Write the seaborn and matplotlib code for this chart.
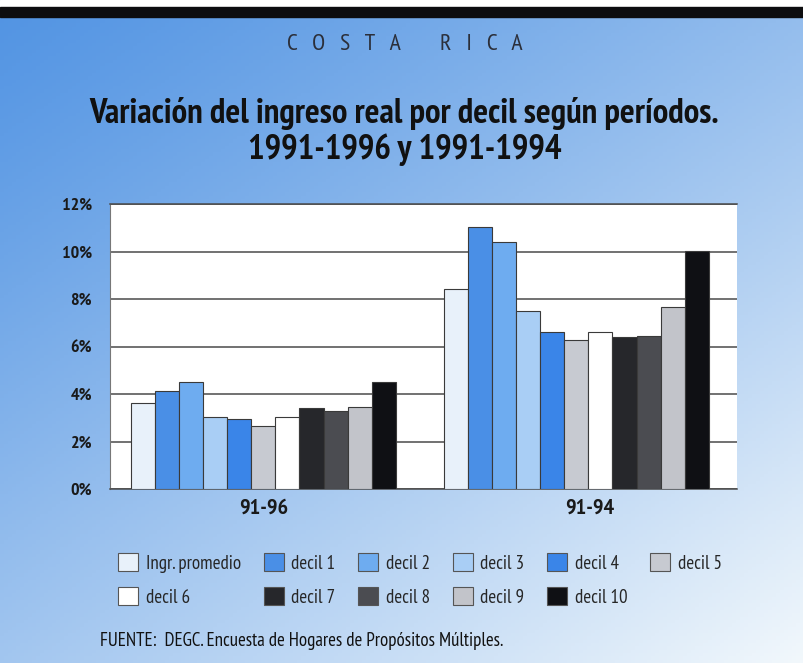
import numpy as np
import pandas as pd
import matplotlib
matplotlib.use("Agg")
import matplotlib.pyplot as plt
import matplotlib.transforms as mtrans
import seaborn as sns
from matplotlib.patches import Patch, Rectangle
from matplotlib import font_manager as fm

periods = ["91-96", "91-94"]
series = ["Ingr. promedio", "decil 1", "decil 2", "decil 3", "decil 4", "decil 5",
          "decil 6", "decil 7", "decil 8", "decil 9", "decil 10"]
vals_9196 = [3.63, 4.14, 4.50, 3.03, 2.96, 2.65, 3.02, 3.42, 3.28, 3.45, 4.49]
vals_9194 = [8.41, 11.02, 10.41, 7.49, 6.60, 6.27, 6.60, 6.41, 6.44, 7.68, 10.03]
colors = ["#e8f1fa", "#4a8fe6", "#6eacf0", "#a9cef5", "#3a85e8", "#c7cad1",
          "#ffffff", "#26272b", "#4b4c51", "#c2c4ca", "#0f1014"]
yticks = [0, 2, 4, 6, 8, 10, 12]
ytick_labels = ["0%", "2%", "4%", "6%", "8%", "10%", "12%"]

df = pd.DataFrame({
    "periodo": [periods[0]] * len(series) + [periods[1]] * len(series),
    "serie": series * 2,
    "valor": vals_9196 + vals_9194,
})

available = set(f.name for f in fm.fontManager.ttflist)
narrow = "DejaVu Sans"
for cand in ["PT Sans Narrow", "Fira Sans Condensed", "Roboto Condensed",
             "Liberation Sans Narrow", "Open Sans Condensed"]:
    if cand in available:
        narrow = cand
        break
scale = 1.0 if narrow != "DejaVu Sans" else 0.8

sns.set_theme(style="white")
FAM = [narrow, "DejaVu Sans"]
plt.rcParams["font.family"] = FAM

fig = plt.figure(figsize=(8.04, 6.63), dpi=100)

# background gradient
bg = fig.add_axes([0, 0, 1, 1], zorder=-10)
h, w = 200, 200
yy, xx = np.mgrid[0:1:h * 1j, 0:1:w * 1j]
t = np.clip(0.55 * yy + 0.45 * xx, 0, 1) ** 1.15
c0 = np.array([0x52, 0x94, 0xe3]) / 255.0
c1 = np.array([0xf2, 0xf8, 0xfc]) / 255.0
img = c0[None, None, :] * (1 - t[..., None]) + c1[None, None, :] * t[..., None]
bg.imshow(img, aspect="auto", extent=[0, 1, 0, 1], origin="upper")
bg.set_axis_off()
fig.patches.append(Rectangle((0, 1 - 7 / 663), 1, 7 / 663, transform=fig.transFigure,
                             color="white", zorder=-5))
fig.patches.append(Rectangle((0, 1 - 17 / 663), 1, 10 / 663, transform=fig.transFigure,
                             color="#0d0d0f", zorder=-5))

ax = fig.add_axes([110 / 804, 1 - 489 / 663, 627 / 804, 285 / 663])
ax.set_facecolor("white")
sns.barplot(data=df, x="periodo", y="valor", hue="serie", hue_order=series,
            order=periods, palette=dict(zip(series, colors)), width=0.845,
            saturation=1, edgecolor="#3a3a3a", linewidth=0.8, legend=False,
            ax=ax, zorder=3)
ax.set_ylim(0, 12)
ax.set_xlim(-0.49, 1.513)
ax.set_yticks(yticks)
ax.set_yticklabels(ytick_labels, fontsize=13 * scale, fontweight="bold", color="#1a1a1a")
ax.yaxis.grid(True, color="#4a4a4a", linewidth=1.1, zorder=0)
ax.set_axisbelow(True)
ax.tick_params(axis="y", length=0, pad=13)
ax.tick_params(axis="x", length=0, pad=7)
for i, lab in enumerate(ax.get_xticklabels()):
    lab.set_fontsize(16 * scale)
    lab.set_fontweight("bold")
    lab.set_color("#1a1a1a")
    if i == 1:
        lab.set_transform(lab.get_transform() +
                          mtrans.ScaledTranslation(13 / 100, 0, fig.dpi_scale_trans))
ax.set_xlabel("")
ax.set_ylabel("")
ax.spines["right"].set_visible(False)
ax.spines["left"].set_color("#777777")
ax.spines["left"].set_linewidth(0.8)
for s in ["bottom", "top"]:
    ax.spines[s].set_color("#4a4a4a")
    ax.spines[s].set_linewidth(1.1)

# legend (row-wise order)
handles = [Patch(facecolor=c, edgecolor="#555555", linewidth=0.8, label=s)
           for s, c in zip(series, colors)]
order = [0, 6, 1, 7, 2, 8, 3, 9, 4, 10, 5]
fig.legend([handles[i] for i in order], [series[i] for i in order], ncol=6,
           loc="center", bbox_to_anchor=(420 / 804, 1 - 580 / 663), frameon=False,
           fontsize=13.7 * scale, handlelength=1.05, handleheight=1.05, handletextpad=0.4,
           columnspacing=1.2, labelspacing=0.78)

fig.text(0.503, 1 - 44 / 663, "C   O   S   T   A        R   I   C   A", ha="center",
         va="center", fontsize=17 * scale, color="#2b2f3a")
fig.text(0.503, 1 - 114 / 663, "Variación del ingreso real por decil según períodos.",
         ha="center", va="center", fontsize=25 * scale, fontweight="bold", color="#111111")
fig.text(0.503, 1 - 150 / 663, "1991-1996 y 1991-1994",
         ha="center", va="center", fontsize=25 * scale, fontweight="bold", color="#111111")
fig.text(100 / 804, 1 - 641 / 663, "FUENTE:  DEGC. Encuesta de Hogares de Propósitos Múltiples.",
         ha="left", va="center", fontsize=13.6 * scale, color="#111111")

fig.savefig("out.png", dpi=100)
